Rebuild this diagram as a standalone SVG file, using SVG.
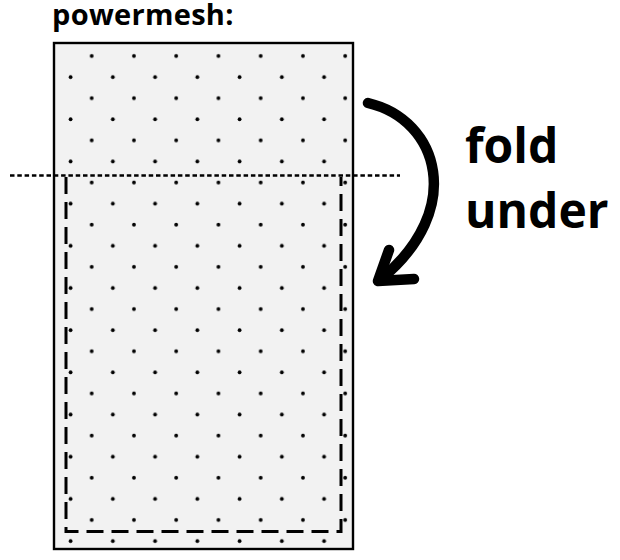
<svg xmlns="http://www.w3.org/2000/svg" width="620" height="560" viewBox="0 0 620 560">
  <style>
    .lbl { font-family: "Open Sans", "Liberation Sans", sans-serif; font-weight: bold; fill: #000; }
    .sheet { fill: #f2f2f2; stroke: #000; stroke-width: 2.4; }
    .dots { fill: url(#mesh); }
    .foldline { fill: none; stroke: #000; stroke-width: 2.6; stroke-dasharray: 4.5 2.8; }
    .seam { fill: none; stroke: #000; stroke-width: 3; stroke-dasharray: 17 8; }
    .arrow { fill: none; stroke: #000; stroke-width: 10.5; stroke-linecap: round; stroke-linejoin: round; }
  </style>
  <defs>
    <pattern id="mesh" patternUnits="userSpaceOnUse" x="60.2" y="45.45" width="42.25" height="42.18">
      <circle cx="31.5" cy="10.55" r="1.9" fill="#000"/>
      <circle cx="10.4" cy="31.64" r="1.9" fill="#000"/>
    </pattern>
  </defs>
  <rect width="620" height="560" fill="#fff"/>
  <g id="label">
    <text class="lbl" x="52" y="24.5" font-size="29" letter-spacing="0.3">powermesh:</text>
  </g>
  <g id="powermesh">
    <rect class="sheet" x="54" y="43" width="299" height="506"/>
    <rect class="dots" x="55" y="44" width="297" height="504"/>
  </g>
  <g id="seam">
    <path class="seam" d="M66 177 V531.5 H341 V177"/>
  </g>
  <g id="fold-line">
    <line class="foldline" x1="10" y1="175.5" x2="400" y2="175.5"/>
  </g>
  <g id="connectors">
    <path class="arrow" d="M368 103 C440 120 465 210 381 279"/>
    <path class="arrow" d="M389 250 L378 281 L414 279"/>
  </g>
  <g id="fold-text">
    <text class="lbl" x="465" y="163" font-size="48">fold</text>
    <text class="lbl" x="465" y="228" font-size="48">under</text>
  </g>
</svg>
